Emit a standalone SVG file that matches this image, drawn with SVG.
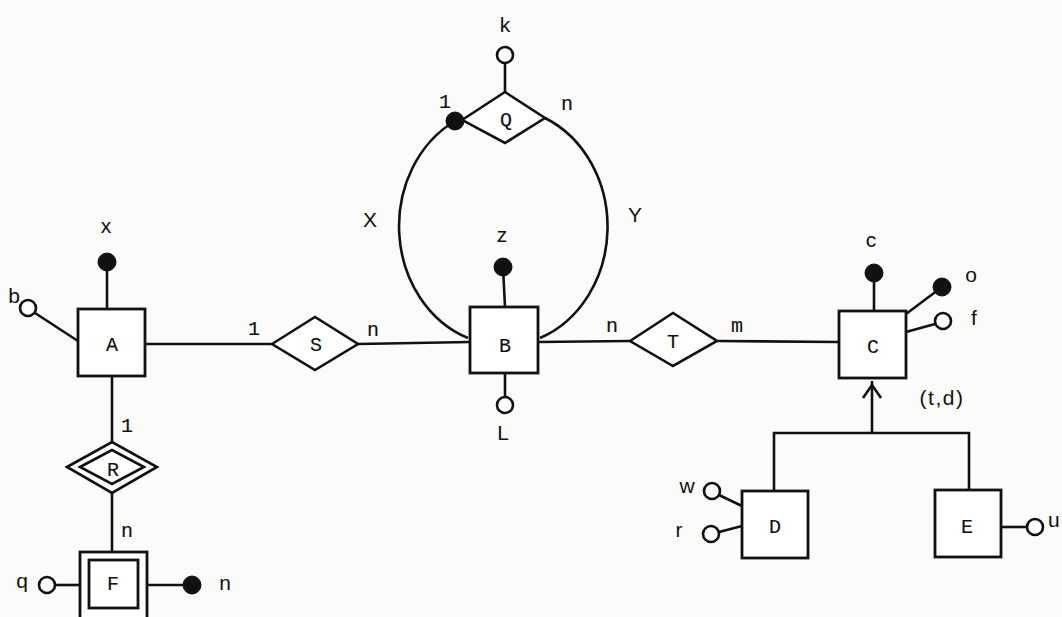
<svg xmlns="http://www.w3.org/2000/svg" width="1062" height="617" viewBox="0 0 1062 617">
<style>
.bg{fill:#fbfbfa}
.ent{fill:#fff;stroke:#111;stroke-width:2.8}
.rel{fill:#fff;stroke:#111;stroke-width:2.6;stroke-linejoin:miter}
.ln{fill:none;stroke:#111;stroke-width:2.6}
.key{fill:#111;stroke:#111;stroke-width:1}
.att{fill:#fff;stroke:#111;stroke-width:2.6}
.m{font-family:"Liberation Mono","DejaVu Sans Mono",monospace;font-size:20px;fill:#111;stroke:#111;stroke-width:0.15;text-anchor:middle}
.s{font-family:"Liberation Sans",Arial,sans-serif;font-size:21px;fill:#111;text-anchor:middle}
</style>
<rect class="bg" x="0" y="0" width="1062" height="617"/>

<g id="connectors">
  <!-- A -->
  <line class="ln" x1="107" y1="262" x2="107" y2="309"/>
  <line class="ln" x1="35" y1="313" x2="78" y2="341"/>
  <line class="ln" x1="145" y1="344" x2="272" y2="344"/>
  <line class="ln" x1="112" y1="376" x2="112" y2="442"/>
  <line class="ln" x1="112" y1="493" x2="112" y2="552"/>
  <!-- F -->
  <line class="ln" x1="55" y1="585" x2="80" y2="585"/>
  <line class="ln" x1="147" y1="585" x2="192" y2="585"/>
  <!-- S - B -->
  <line class="ln" x1="358" y1="344" x2="470" y2="342"/>
  <!-- B -->
  <line class="ln" x1="503" y1="267" x2="505" y2="307"/>
  <line class="ln" x1="505" y1="373" x2="505" y2="397"/>
  <line class="ln" x1="538" y1="342" x2="630" y2="341"/>
  <!-- Q loop -->
  <line class="ln" x1="505" y1="63" x2="505" y2="92"/>
  <path class="ln" d="M455,121 A105,119 0 0 0 468,338"/>
  <path class="ln" d="M545,118 A105,119 0 0 1 540,338"/>
  <!-- T - C -->
  <line class="ln" x1="717" y1="341" x2="839" y2="342"/>
  <!-- C attributes -->
  <line class="ln" x1="874" y1="273" x2="874" y2="311"/>
  <line class="ln" x1="906" y1="314" x2="942" y2="287"/>
  <line class="ln" x1="906" y1="332" x2="935" y2="324"/>
  <!-- ISA -->
  <line class="ln" x1="872" y1="433" x2="872" y2="381"/>
  <polyline class="ln" points="863,398 872,385 881,398" stroke-width="3"/>
  <polyline class="ln" points="774,491 774,433 969,433 969,490"/>
  <!-- D, E -->
  <line class="ln" x1="719" y1="495" x2="742" y2="506"/>
  <line class="ln" x1="719" y1="532" x2="742" y2="526"/>
  <line class="ln" x1="1001" y1="527" x2="1027" y2="527"/>
</g>

<g id="A">
  <rect class="ent" x="78" y="309" width="67" height="67"/>
  <text class="m" x="112" y="351">A</text>
  <circle class="key" cx="107" cy="262" r="9"/>
  <text class="s" x="106" y="233">x</text>
  <circle class="att" cx="28" cy="308" r="8"/>
  <text class="s" x="14" y="303">b</text>
</g>

<g id="S">
  <polygon class="rel" points="272,344 315,317 358,344 315,370"/>
  <text class="m" x="316" y="351">S</text>
  <text class="m" x="254" y="335">1</text>
  <text class="m" x="373" y="336">n</text>
</g>

<g id="R">
  <polygon class="rel" points="67,467 112,442 157,467 112,493"/>
  <polygon class="rel" points="80,467 112,450 144,467 112,484"/>
  <text class="m" x="113" y="476">R</text>
  <text class="m" x="127" y="432">1</text>
  <text class="m" x="127" y="537">n</text>
</g>

<g id="F">
  <rect class="ent" x="80" y="552" width="67" height="72"/>
  <rect class="ent" x="89" y="560" width="49" height="48"/>
  <text class="m" x="113" y="590">F</text>
  <circle class="att" cx="47" cy="585" r="8"/>
  <text class="s" x="22" y="588">q</text>
  <circle class="key" cx="192" cy="585" r="9"/>
  <text class="s" x="225" y="590">n</text>
</g>

<g id="B">
  <rect class="ent" x="470" y="307" width="68" height="66"/>
  <text class="m" x="505" y="352">B</text>
  <circle class="key" cx="503" cy="267" r="9"/>
  <text class="s" x="502" y="242">z</text>
  <circle class="att" cx="505" cy="405" r="8"/>
  <text class="s" x="503" y="440">L</text>
  <text class="s" x="370" y="227">X</text>
  <text class="s" x="635" y="222">Y</text>
</g>

<g id="Q">
  <polygon class="rel" points="462,120 505,92 545,118 505,143"/>
  <text class="m" x="506" y="126">Q</text>
  <circle class="att" cx="505" cy="55" r="8"/>
  <text class="s" x="505" y="32">k</text>
  <circle class="key" cx="455" cy="121" r="9"/>
  <text class="m" x="445" y="108">1</text>
  <text class="m" x="567" y="110">n</text>
</g>

<g id="T">
  <polygon class="rel" points="630,341 673,313 717,341 673,366"/>
  <text class="m" x="673" y="348">T</text>
  <text class="m" x="612" y="332">n</text>
  <text class="m" x="737" y="332">m</text>
</g>

<g id="C">
  <rect class="ent" x="839" y="311" width="67" height="67"/>
  <text class="m" x="873" y="353">C</text>
  <circle class="key" cx="874" cy="273" r="9"/>
  <text class="s" x="871" y="247">c</text>
  <circle class="key" cx="942" cy="287" r="9"/>
  <text class="s" x="971" y="282">o</text>
  <circle class="att" cx="943" cy="321" r="8"/>
  <text class="s" x="974" y="325">f</text>
  <text class="s" x="942" y="405" letter-spacing="1.5">(t,d)</text>
</g>

<g id="D">
  <rect class="ent" x="742" y="491" width="66" height="67"/>
  <text class="m" x="775" y="533">D</text>
  <circle class="att" cx="712" cy="491" r="8"/>
  <text class="s" x="687" y="493">w</text>
  <circle class="att" cx="711" cy="534" r="8"/>
  <text class="s" x="679" y="537">r</text>
</g>

<g id="E">
  <rect class="ent" x="935" y="490" width="66" height="67"/>
  <text class="m" x="967" y="533">E</text>
  <circle class="att" cx="1035" cy="527" r="8"/>
  <text class="s" x="1048" y="527" style="text-anchor:start">u</text>
</g>
</svg>
